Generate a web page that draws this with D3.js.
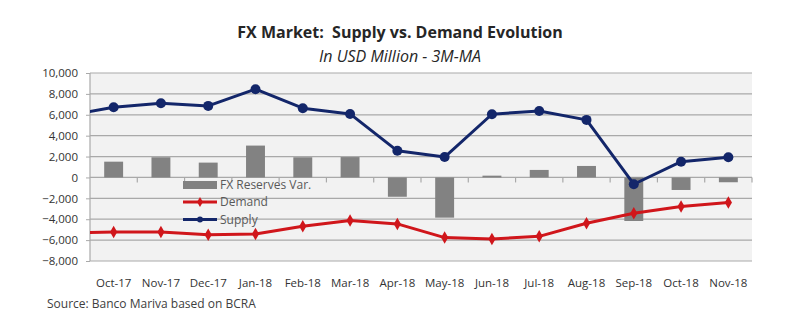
<!DOCTYPE html>
<html>
<head>
<meta charset="utf-8">
<script src="https://cdn.jsdelivr.net/npm/d3@7"></script>
<style>
  html, body { margin: 0; padding: 0; background: #ffffff; }
  svg { display: block; font-family: "Open Sans", "Lato", sans-serif; }
</style>
</head>
<body>
<svg id="chart" width="800" height="321"></svg>
<script>
// Months shown on the category axis
const months = ["Oct-17", "Nov-17", "Dec-17", "Jan-18", "Feb-18", "Mar-18", "Apr-18",
                "May-18", "Jun-18", "Jul-18", "Aug-18", "Sep-18", "Oct-18", "Nov-18"];
// Month preceding the window; the lines run in from it at the left edge
const leadMonth = "Sep-17";
const leadSupply = 5900;
const leadDemand = -5300;

// USD million, 3-month moving average
const reservesVar = [1510, 1930, 1420, 3050, 1930, 1950, -1850, -3850, 170, 720, 1100, -4170, -1200, -460];
const demand = [-5220, -5220, -5480, -5410, -4680, -4130, -4450, -5760, -5890, -5640, -4390, -3430, -2790, -2410];
const supply = [6720, 7100, 6850, 8450, 6630, 6080, 2550, 1950, 6050, 6370, 5510, -650, 1510, 1930];

const yTicks = [10000, 8000, 6000, 4000, 2000, 0, -2000, -4000, -6000, -8000];

const svg = d3.select("#chart");
const plot = { left: 90, right: 752, top: 73, bottom: 261 };

const x = d3.scaleBand().domain(months).range([plot.left, plot.right]).paddingInner(0).paddingOuter(0);
const y = d3.scaleLinear().domain([-8000, 10000]).range([plot.bottom, plot.top]);
const cx = m => m === leadMonth ? x(months[0]) - x.bandwidth() / 2 : x(m) + x.bandwidth() / 2;

// Plot background
svg.append("rect")
  .attr("x", plot.left).attr("y", plot.top)
  .attr("width", plot.right - plot.left).attr("height", plot.bottom - plot.top)
  .attr("fill", "#f2f2f2");

// Horizontal gridlines
svg.append("g").selectAll("line").data(yTicks).join("line")
  .attr("x1", plot.left).attr("x2", plot.right)
  .attr("y1", d => y(d)).attr("y2", d => y(d))
  .attr("stroke", "#a9a9a9").attr("stroke-width", 1.2);

// Left axis line
svg.append("line")
  .attr("x1", plot.left).attr("x2", plot.left)
  .attr("y1", plot.top).attr("y2", plot.bottom)
  .attr("stroke", "#a9a9a9").attr("stroke-width", 1.2);

// Y axis labels
const yAxis = d3.axisLeft(y).tickValues(yTicks).tickFormat(d3.format(",")).tickSize(4).tickPadding(8);
const gy = svg.append("g").attr("transform", `translate(${plot.left},0)`).call(yAxis);
gy.select(".domain").remove();
gy.selectAll(".tick line").attr("stroke", "#a9a9a9");
gy.selectAll(".tick text").attr("fill", "#333333").style("font-size", "11.5px")
  .style("font-family", "'Open Sans', sans-serif");

// Category boundary ticks hanging from the zero line
const bounds = months.map(m => x(m)).concat([plot.right]);
svg.append("g").selectAll("line").data(bounds.slice(1)).join("line")
  .attr("x1", d => d).attr("x2", d => d)
  .attr("y1", y(0)).attr("y2", y(0) + 5)
  .attr("stroke", "#a9a9a9").attr("stroke-width", 1.2);

// X axis labels
const xAxis = d3.axisBottom(x).tickSize(0).tickPadding(0);
const gx = svg.append("g").attr("transform", `translate(0,${plot.bottom + 18})`).call(xAxis);
gx.select(".domain").remove();
gx.selectAll(".tick text").attr("fill", "#333333").style("font-size", "11.5px")
  .style("font-family", "'Open Sans', sans-serif");

// Clip for the lines that run in from the left
svg.append("clipPath").attr("id", "plotClip").append("rect")
  .attr("x", plot.left).attr("y", plot.top - 10)
  .attr("width", plot.right - plot.left + 10).attr("height", plot.bottom - plot.top + 20);

// FX reserves variation bars
const barW = x.bandwidth() * 0.4;
svg.append("g").selectAll("rect").data(reservesVar).join("rect")
  .attr("x", (d, i) => x(months[i]) + (x.bandwidth() - barW) / 2)
  .attr("y", d => y(Math.max(0, d)))
  .attr("width", barW)
  .attr("height", d => Math.abs(y(d) - y(0)))
  .attr("fill", "#828282");

const line = d3.line().x(d => cx(d.m)).y(d => y(d.v));

function drawSeries(lead, values, color, marker) {
  const pts = [{ m: leadMonth, v: lead }].concat(values.map((v, i) => ({ m: months[i], v })));
  svg.append("path").datum(pts)
    .attr("clip-path", "url(#plotClip)")
    .attr("d", line).attr("fill", "none")
    .attr("stroke", color).attr("stroke-width", 3).attr("stroke-linejoin", "round");
  const g = svg.append("g");
  values.forEach((v, i) => {
    if (marker === "circle") {
      g.append("circle").attr("cx", cx(months[i])).attr("cy", y(v)).attr("r", 5).attr("fill", color);
    } else {
      g.append("path")
        .attr("d", d3.symbol().type(d3.symbolDiamond).size(45))
        .attr("transform", `translate(${cx(months[i])},${y(v)})`)
        .attr("fill", color);
    }
  });
}

drawSeries(leadDemand, demand, "#d0161b", "diamond");
drawSeries(leadSupply, supply, "#13266a", "circle");

// Legend
const legend = svg.append("g").attr("transform", "translate(183,0)");
legend.append("rect").attr("x", 0).attr("y", 181).attr("width", 34).attr("height", 8).attr("fill", "#828282");
legend.append("line").attr("x1", 0).attr("x2", 34).attr("y1", 202).attr("y2", 202)
  .attr("stroke", "#d0161b").attr("stroke-width", 3);
legend.append("path").attr("d", d3.symbol().type(d3.symbolDiamond).size(30)).attr("transform", "translate(17,202)").attr("fill", "#d0161b");
legend.append("line").attr("x1", 0).attr("x2", 34).attr("y1", 219.5).attr("y2", 219.5)
  .attr("stroke", "#13266a").attr("stroke-width", 3);
legend.append("circle").attr("cx", 17).attr("cy", 219.5).attr("r", 3).attr("fill", "#13266a");
[["FX Reserves Var.", 185], ["Demand", 202], ["Supply", 219.5]].forEach(([t, yy]) => {
  legend.append("text").attr("x", 37).attr("y", yy).attr("dy", "0.35em")
    .attr("fill", "#595959").style("font-size", "12px").text(t);
});

// Titles
svg.append("text").attr("x", 400).attr("y", 38).attr("text-anchor", "middle")
  .attr("fill", "#262626").style("font-size", "16px").style("font-weight", "bold")
  .style("font-family", "'Open Sans', sans-serif")
  .attr("xml:space", "preserve")
  .text("FX Market:  Supply vs. Demand Evolution");
svg.append("text").attr("x", 400).attr("y", 62).attr("text-anchor", "middle")
  .attr("fill", "#262626").style("font-size", "16px").style("font-style", "italic")
  .text("In USD Million - 3M-MA");

// Source note
svg.append("text").attr("x", 47).attr("y", 308)
  .attr("fill", "#404040").style("font-size", "12px")
  .text("Source: Banco Mariva based on BCRA");
</script>
</body>
</html>
